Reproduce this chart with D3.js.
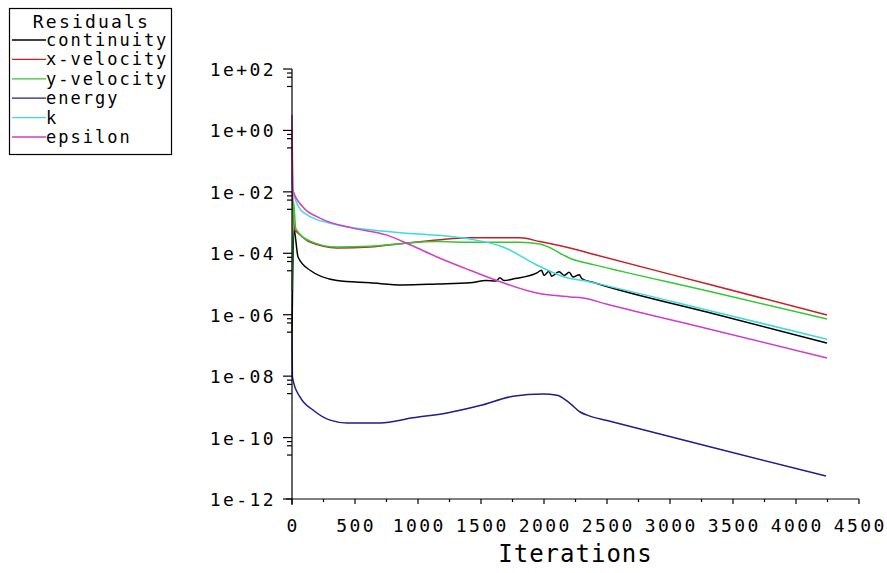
<!DOCTYPE html>
<html>
<head>
<meta charset="utf-8">
<script src="https://cdn.jsdelivr.net/npm/d3@7"></script>
<style>
  body { margin: 0; background: #fff; }
  text { font-family: "DejaVu Sans Mono", monospace; fill: #000; }
</style>
</head>
<body>
<svg id="chart" width="887" height="573"></svg>
<script>
// residual history, [iteration, residual]
var continuity = [[0, 2.5e-7], [15, 6.3e-4], [48, 7.6e-5], [143, 2.8e-5], [357, 1.3e-5], [619, 1.1e-5],
  [881, 9.3e-6], [1151, 1.0e-5], [1413, 1.1e-5], [1540, 1.3e-5], [1620, 1.25e-5], [1650, 1.6e-5], [1680, 1.3e-5],
  [1770, 1.5e-5], [1944, 2.3e-5], [1980, 2.8e-5], [2000, 1.9e-5], [2040, 2.6e-5], [2060, 1.8e-5],
  [2120, 2.5e-5], [2160, 1.9e-5], [2200, 2.4e-5], [2230, 1.7e-5], [2280, 2.0e-5], [2300, 1.5e-5],
  [2400, 1.1e-5], [3300, 1.2e-6], [4246, 1.2e-7]];
var xVelocity = [[0, 1.0], [8, 2.0e-3], [24, 5.6e-4], [40, 4.9e-4], [143, 2.3e-4], [357, 1.5e-4], [619, 1.6e-4],
  [881, 2.1e-4], [1151, 2.7e-4], [1413, 3.2e-4], [1810, 3.2e-4], [1968, 2.4e-4], [2230, 1.4e-4],
  [2400, 9.1e-5], [3300, 1.0e-5], [4246, 9.8e-7]];
var yVelocity = [[0, 6.3e-6], [12, 5.0e-3], [30, 6.3e-4], [143, 2.5e-4], [357, 1.6e-4], [619, 1.7e-4],
  [881, 2.1e-4], [1151, 2.4e-4], [1413, 2.3e-4], [1810, 2.3e-4], [1968, 2.0e-4], [2230, 6.3e-5],
  [2400, 4.2e-5], [3300, 5.9e-6], [4246, 7.2e-7]];
var energy = [[0, 2.5e-7], [3, 1.0e-8], [8, 7.4e-9], [63, 2.1e-9], [167, 7.9e-10], [302, 3.7e-10], [437, 3.0e-10],
  [698, 3.0e-10], [960, 4.4e-10], [1230, 6.3e-10], [1492, 1.1e-9], [1754, 2.2e-9], [1992, 2.6e-9],
  [2103, 2.4e-9], [2206, 1.3e-9], [2286, 6.8e-10], [2365, 5.0e-10], [2500, 3.6e-10], [3300, 5.2e-11],
  [4238, 5.6e-12]];
var kResid = [[0, 3.2e-2], [8, 1.0e-2], [87, 2.2e-3], [357, 8.3e-4], [619, 5.8e-4], [881, 4.6e-4], [1151, 3.9e-4],
  [1413, 2.9e-4], [1675, 1.6e-4], [1950, 4.0e-5], [2206, 1.5e-5], [2310, 1.3e-5], [2500, 8.7e-6],
  [3300, 1.4e-6], [4246, 1.6e-7]];
var epsilon = [[0, 3.2], [8, 1.1e-2], [87, 3.2e-3], [222, 1.4e-3], [484, 6.6e-4], [754, 3.9e-4], [937, 1.9e-4],
  [1151, 7.6e-5], [1413, 2.8e-5], [1675, 1.1e-5], [1944, 5.1e-6], [2206, 3.8e-6], [2310, 3.5e-6],
  [2500, 2.2e-6], [3300, 3.5e-7], [4246, 3.9e-8]];

var seriesNames = ["continuity", "x-velocity", "y-velocity", "energy", "k", "epsilon"];
var seriesData = [continuity, xVelocity, yVelocity, energy, kResid, epsilon];
var seriesColors = ["#000000", "#c81e28", "#32c832", "#1e1e8c", "#3cdcdc", "#d23cc8"];

var xTicks = [0, 500, 1000, 1500, 2000, 2500, 3000, 3500, 4000, 4500];
var yTicks = [1e2, 1e0, 1e-2, 1e-4, 1e-6, 1e-8, 1e-10, 1e-12];
var yTickLabels = ["1e+02", "1e+00", "1e-02", "1e-04", "1e-06", "1e-08", "1e-10", "1e-12"];

var svg = d3.select("#chart");
var x = d3.scaleLinear().domain([0, 4500]).range([292, 859]);
var y = d3.scaleLog().domain([1e-12, 1e2]).range([499, 69]);

// curves
var line = d3.line()
  .x(function (d) { return x(d[0]); })
  .y(function (d) { return y(d[1]); })
  .curve(d3.curveMonotoneX);

seriesData.forEach(function (data, i) {
  svg.append("path")
    .attr("d", line(data))
    .attr("fill", "none")
    .attr("stroke", seriesColors[i])
    .attr("stroke-width", 1.5);
});

// y axis
var ax = svg.append("g").attr("stroke", "#000").attr("stroke-width", 1.2);
ax.append("line").attr("x1", 292).attr("x2", 292).attr("y1", y(1e2)).attr("y2", y(1e-12) + 6);
yTicks.forEach(function (t, i) {
  ax.append("line").attr("x1", 283).attr("x2", 292).attr("y1", y(t)).attr("y2", y(t));
  if (i < yTicks.length - 1) {
    [0.74, 0.54, 0.27].forEach(function (f) {
      ax.append("line").attr("x1", 287).attr("x2", 292).attr("y1", y(t * f)).attr("y2", y(t * f));
    });
  }
  svg.append("text")
    .attr("x", 276).attr("y", y(t) + 7)
    .attr("text-anchor", "end")
    .attr("font-size", 18)
    .attr("letter-spacing", 2.4)
    .text(yTickLabels[i]);
});

// x axis
ax.append("line").attr("x1", 286).attr("x2", x(4500)).attr("y1", 499).attr("y2", 499);
d3.range(0, 4501, 250).forEach(function (t) {
  var major = t % 500 === 0;
  ax.append("line").attr("x1", x(t)).attr("x2", x(t)).attr("y1", 499).attr("y2", 499 + (major ? 5 : 3));
});
xTicks.forEach(function (t) {
  svg.append("text")
    .attr("x", x(t) + 1.2).attr("y", 532)
    .attr("text-anchor", "middle")
    .attr("font-size", 18)
    .attr("letter-spacing", 2.4)
    .text(t);
});
svg.append("text")
  .attr("x", (x(0) + x(4500)) / 2).attr("y", 562)
  .attr("text-anchor", "middle")
  .attr("font-size", 24)
  .attr("letter-spacing", 1)
  .text("Iterations");

// legend
var lg = svg.append("g");
lg.append("rect").attr("x", 9.5).attr("y", 8.5).attr("width", 162).attr("height", 146)
  .attr("fill", "#fff").attr("stroke", "#000").attr("stroke-width", 1.2);
lg.append("text").attr("x", 91.5).attr("y", 28).attr("text-anchor", "middle")
  .attr("font-size", 18).attr("letter-spacing", 2.2).text("Residuals");
seriesNames.forEach(function (name, i) {
  var ly = 40 + i * 19.4;
  lg.append("line").attr("x1", 12).attr("x2", 46).attr("y1", ly).attr("y2", ly)
    .attr("stroke", seriesColors[i]).attr("stroke-width", 1.3);
  lg.append("text").attr("x", 46).attr("y", ly + 6).attr("font-size", 17)
    .attr("letter-spacing", 2).text(name);
});
</script>
</body>
</html>
